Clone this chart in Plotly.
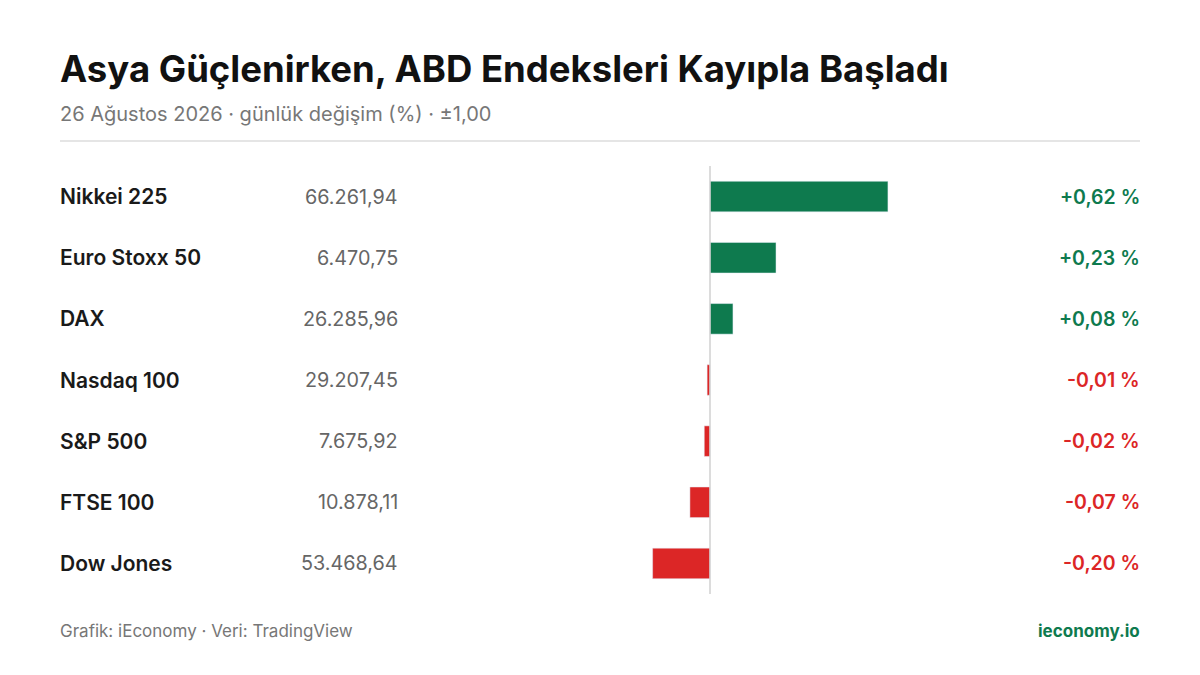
import plotly.graph_objects as go

names = ["Nikkei 225", "Euro Stoxx 50", "DAX", "Nasdaq 100", "S&P 500", "FTSE 100", "Dow Jones"]
levels = ["66.261,94", "6.470,75", "26.285,96", "29.207,45", "7.675,92", "10.878,11", "53.468,64"]
changes = [0.62, 0.23, 0.08, -0.01, -0.02, -0.07, -0.20]

GREEN = "#0e7a4e"
RED = "#dc2626"
W, H = 1200, 675
F = "Inter"
OX, OY = 8, 8  # page body offset

def px(x): return (x - OX) / W
def py(y): return 1 - (y - OY) / H

colors = [GREEN if c >= 0 else RED for c in changes]
fig = go.Figure(go.Bar(x=changes, y=names, orientation="h", marker_color=colors,
                       width=0.5, hoverinfo="skip"))

ann = []
for n, lv, c, col in zip(names, levels, changes, colors):
    ann.append(dict(x=px(58), y=n, xref="paper", yref="y", text=n, showarrow=False, xanchor="left",
                    font=dict(family=F, size=21, color="#1a1a1a", weight=600)))
    ann.append(dict(x=px(400), y=n, xref="paper", yref="y", text=lv, showarrow=False, xanchor="right",
                    font=dict(family=F, size=19.8, color="#666666")))
    s = ("+" if c >= 0 else "-") + f"{abs(c):.2f}".replace(".", ",") + " %"
    ann.append(dict(x=px(1142), y=n, xref="paper", yref="y", text=s, showarrow=False, xanchor="right",
                    font=dict(family=F, size=19.5, color=col, weight=600)))

ann += [
    dict(x=px(58), y=py(69), xref="paper", yref="paper", text="Asya Güçlenirken, ABD Endeksleri Kayıpla Başladı",
         showarrow=False, xanchor="left", yanchor="middle", font=dict(family=F, size=36.5, color="#111", weight=700)),
    dict(x=px(58), y=py(114), xref="paper", yref="paper", text="26 Ağustos 2026 · günlük değişim (%) · ±1,00",
         showarrow=False, xanchor="left", yanchor="middle", font=dict(family=F, size=20, color="#777")),
    dict(x=px(58), y=py(631), xref="paper", yref="paper", text="Grafik: iEconomy · Veri: TradingView",
         showarrow=False, xanchor="left", yanchor="middle", font=dict(family=F, size=17, color="#777")),
    dict(x=px(1142), y=py(631), xref="paper", yref="paper", text="ieconomy.io",
         showarrow=False, xanchor="right", yanchor="middle", font=dict(family=F, size=17, color=GREEN, weight=700)),
]

fig.update_layout(
    width=W, height=H, margin=dict(l=0, r=0, t=0, b=0),
    paper_bgcolor="white", plot_bgcolor="white", showlegend=False,
    xaxis=dict(domain=[px(423), px(997)], range=[-1, 1], visible=False, fixedrange=True),
    yaxis=dict(domain=[py(594), py(166)], autorange="reversed", visible=False),
    annotations=ann,
    shapes=[
        dict(type="line", xref="paper", yref="paper", x0=px(60), x1=px(1140), y0=py(141), y1=py(141),
             line=dict(color="#dddddd", width=1.5)),
        dict(type="line", xref="x", yref="paper", x0=0, x1=0, y0=py(594), y1=py(166),
             line=dict(color="#d0d0d0", width=1.5)),
    ],
)
fig.write_html("out.html")
